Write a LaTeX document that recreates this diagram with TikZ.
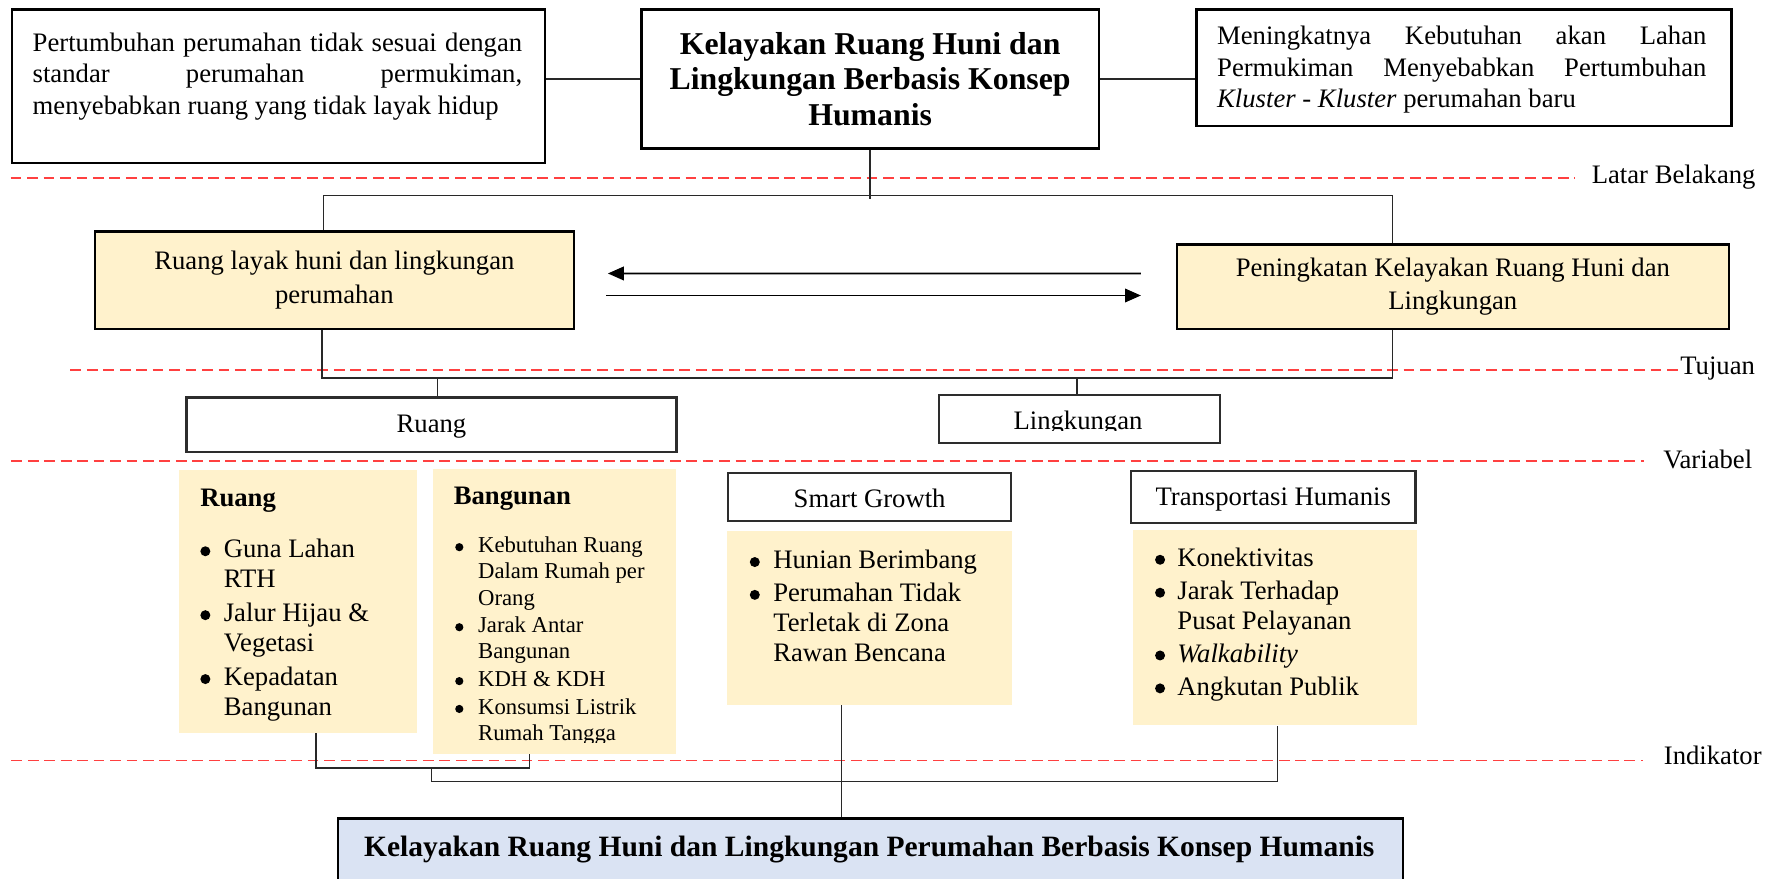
\documentclass[tikz,border=0pt]{standalone}
\usepackage{fontspec}
\setmainfont{Liberation Serif}
\usetikzlibrary{arrows.meta,calc}
\definecolor{yel}{RGB}{255,242,204}
\definecolor{blu}{RGB}{218,227,243}
\definecolor{dred}{RGB}{255,64,64}
\definecolor{bord}{RGB}{45,45,45}
\definecolor{lnc}{RGB}{40,40,40}
\newcommand{\myfs}[2]{\fontsize{#1pt}{#2pt}\selectfont}
\newcommand{\bul}[3]{\makebox[#1][l]{\hspace{0.3pt}\raisebox{#3}{\tikz\fill[black] (0pt,0pt) circle (#2);}}}
\begin{document}
\begin{tikzpicture}[x=1pt,y=-1pt,
  frame/.style={draw=black,line width=2.2pt,fill=white,inner sep=0pt,anchor=north west},
  wbox/.style={draw=bord,line width=2.2pt,fill=white,inner sep=0pt,anchor=north west,font={\myfs{23.5}{27.5}}},
  ybord/.style={draw=black,line width=2pt,fill=yel,inner sep=0pt,anchor=north west,align=center,font={\myfs{23.5}{29.4}}},
  ybox/.style={draw=none,fill=yel,inner sep=0pt,anchor=north west},
  txt/.style={inner sep=0pt,anchor=base west,font={\myfs{23.5}{27.5}}},
  lab/.style={inner sep=0pt,anchor=west,font={\myfs{23.5}{27.5}}},
  conn/.style={draw=lnc,line width=1.2pt},
  arr/.style={draw=black,line width=1.5pt,-{Triangle[length=14pt,width=12pt]}},
  rdash/.style={draw=dred,line width=1.5pt,dash pattern=on 9.5pt off 5pt}]
\useasboundingbox (0,0) rectangle (1568,774);
\clip (0,0) rectangle (1568,774);

% separators
\draw[rdash] (9.4,157) -- (1387,157);
\node[lab] (lLB) at (1402,156) {Latar Belakang};
\draw[rdash] (62,326) -- (1482,326);
\node[lab] (lTJ) at (1480,325) {Tujuan};
\draw[rdash] (10,406) -- (1448,406);
\node[lab] (lVA) at (1465,405) {Variabel};
\draw[rdash] (10,670) -- (1447,670);
\node[lab] (lIN) at (1465.5,665) {Indikator};

% top boxes
\node[frame,minimum width=469.6pt,minimum height=135.1pt] (b1) at (9.4,7.3) {};
\node[txt] (b1t) at (28.6,45) {\parbox[t]{431.2pt}{\myfs{23.5}{27.8}%
\makebox[431.2pt][s]{Pertumbuhan perumahan tidak sesuai dengan}\\
\makebox[431.2pt][s]{standar perumahan permukiman,}\\
menyebabkan ruang yang tidak layak hidup}};

\node[frame,minimum width=402.8pt,minimum height=122.5pt,align=center,font={\bfseries\myfs{28}{31.5}}] (cb) at (564,7.3)
  {Kelayakan Ruang Huni dan\\Lingkungan Berbasis Konsep\\Humanis};

\node[frame,minimum width=471pt,minimum height=102.7pt] (b3) at (1053,7.3) {};
\node[txt] (b3t) at (1072,39.5) {\parbox[t]{431pt}{\myfs{23.5}{27.8}%
\makebox[431pt][s]{Meningkatnya Kebutuhan akan Lahan}\\
\makebox[431pt][s]{Permukiman Menyebabkan Pertumbuhan}\\
\textit{Kluster - Kluster} perumahan baru}};

% goals
\node[ybord,minimum width=422.3pt,minimum height=85.6pt] (tl) at (82.4,203)
  {Ruang layak huni dan lingkungan\\perumahan};
\node[ybord,minimum width=486.4pt,minimum height=74.3pt] (tr) at (1035.6,214.3)
  {Peningkatan Kelayakan Ruang Huni dan\\Lingkungan};

% variables
\node[wbox,minimum width=432pt,minimum height=48pt] (ru) at (163,349) {\raisebox{-1.5pt}[\height][\depth]{Ruang}};
\node[wbox,minimum width=247.8pt,minimum height=42pt] (li) at (826,347) {};
\begin{scope}
\clip (826,347) rectangle (1073.6,378.8);
\node[inner sep=0pt,anchor=base,font={\myfs{23.5}{27.5}}] (lit) at (949.6,378.5) {Lingkungan};
\end{scope}

% indicators
\node[ybox,minimum width=210.1pt,minimum height=231.4pt] (ry) at (157.3,414) {};
\node[txt,font={\bfseries\myfs{23.5}{27.5}}] (ryh) at (176.2,446) {Ruang};
\node[txt] (ryl) at (176,491.5) {\parbox[t]{185pt}{\myfs{23.5}{26.4}%
\bul{21pt}{4.4pt}{1.5pt}Guna Lahan\\
\hspace*{21pt}RTH\\[3.5pt]
\bul{21pt}{4.4pt}{1.5pt}Jalur Hijau \&\\
\hspace*{21pt}Vegetasi\\[3.5pt]
\bul{21pt}{4.4pt}{1.5pt}Kepadatan\\
\hspace*{21pt}Bangunan}};

\node[ybox,minimum width=213.9pt,minimum height=251pt] (by) at (381.6,412.6) {};
\node[txt,font={\bfseries\myfs{23.5}{27.5}}] (byh) at (399.6,444) {Bangunan};
\begin{scope}
\clip (381.6,412.6) rectangle (595.5,654);
\node[txt] (byl) at (400.5,487) {\parbox[t]{190pt}{\myfs{20}{23}%
\bul{20.5pt}{3.6pt}{1.4pt}Kebutuhan Ruang\\
\hspace*{20.5pt}Dalam Rumah per\\
\hspace*{20.5pt}Orang\\[1.5pt]
\bul{20.5pt}{3.6pt}{1.4pt}Jarak Antar\\
\hspace*{20.5pt}Bangunan\\[1.5pt]
\bul{20.5pt}{3.6pt}{1.4pt}KDH \& KDH\\[1.5pt]
\bul{20.5pt}{3.6pt}{1.4pt}Konsumsi Listrik\\
\hspace*{20.5pt}Rumah Tangga}};
\end{scope}

\node[wbox,minimum width=249.3pt,minimum height=42.5pt] (sg) at (640.3,415.5) {\raisebox{-1pt}[\height][\depth]{Smart Growth}};
\node[ybox,minimum width=250.8pt,minimum height=153.2pt] (sy) at (640.3,467.8) {};
\node[txt] (syl) at (660,501) {\parbox[t]{225pt}{\myfs{23.5}{26.4}%
\bul{21pt}{4.4pt}{1.5pt}Hunian Berimbang\\[2.5pt]
\bul{21pt}{4.4pt}{1.5pt}Perumahan Tidak\\
\hspace*{21pt}Terletak di Zona\\
\hspace*{21pt}Rawan Bencana}};

\node[wbox,minimum width=251pt,minimum height=45.5pt] (th) at (995,414) {\raisebox{-2pt}[\height][\depth]{Transportasi Humanis}};
\node[ybox,minimum width=250.3pt,minimum height=171.8pt] (ty) at (997.6,466.9) {};
\node[txt] (tyl) at (1017,499) {\parbox[t]{225pt}{\myfs{23.5}{26.3}%
\bul{20pt}{4.4pt}{1.5pt}Konektivitas\\[2.7pt]
\bul{20pt}{4.4pt}{1.5pt}Jarak Terhadap\\
\hspace*{20pt}Pusat Pelayanan\\[2.7pt]
\bul{20pt}{4.4pt}{1.5pt}\textit{Walkability}\\[2.7pt]
\bul{20pt}{4.4pt}{1.5pt}Angkutan Publik}};

% final
\node[draw=black,line width=2.2pt,fill=blu,inner sep=0pt,anchor=north west,minimum width=938.3pt,minimum height=60pt] (fin) at (296.6,720) {};
\node[inner sep=0pt,anchor=base,font={\bfseries\myfs{26}{30}}] (fint) at (765.75,754.5)
  {Kelayakan Ruang Huni dan Lingkungan Perumahan Berbasis Konsep Humanis};

% connectors
\draw[conn] (cb.west) -- (cb.west -| b1.east);
\draw[conn] (cb.east) -- (cb.east -| b3.west);
\coordinate (j1) at (284.7,172.4);
\coordinate (j2) at (1226.8,172.4);
\draw[conn] (cb.south) -- ($(cb.south |- j1)+(0,3)$);
\draw[conn] (j1 |- tl.north) -- (j1) -- (j2) -- (j2 |- tr.north);
\coordinate (k1) at (283.5,333);
\coordinate (k2) at (1226.8,333);
\draw[conn] (k1 |- tl.south) -- (k1) -- (k2) -- (k2 |- tr.south);
\coordinate (k3) at (385.3,333);
\coordinate (k4) at (948.6,333);
\draw[conn] (k3) -- (k3 |- ru.north);
\draw[conn] (k4) -- (k4 |- li.north);

\coordinate (m1) at (278.4,676.6);
\coordinate (m2) at (466.6,676.6);
\draw[conn] (m1 |- ry.south) -- (m1) -- (m2) -- (m2 |- by.south);
\coordinate (m3) at (380,676.6);
\coordinate (m5) at (1125.6,688.6);
\draw[conn] (m3) -- (m3 |- m5) -- (m5) -- (m5 |- ty.south);
\coordinate (n1) at (741.5,700);
\draw[conn] (n1 |- sy.south) -- (n1 |- fin.north);

% arrows
\draw[arr] ($(tr.west)+(-30.6,-11.55)$) -- ($(tl.east)+(28.8,-5.9)$);
\draw[arr] ($(tl.east)+(27.3,13.5)$) -- ($(tr.west)+(-30.6,7.85)$);
\end{tikzpicture}
\end{document}
